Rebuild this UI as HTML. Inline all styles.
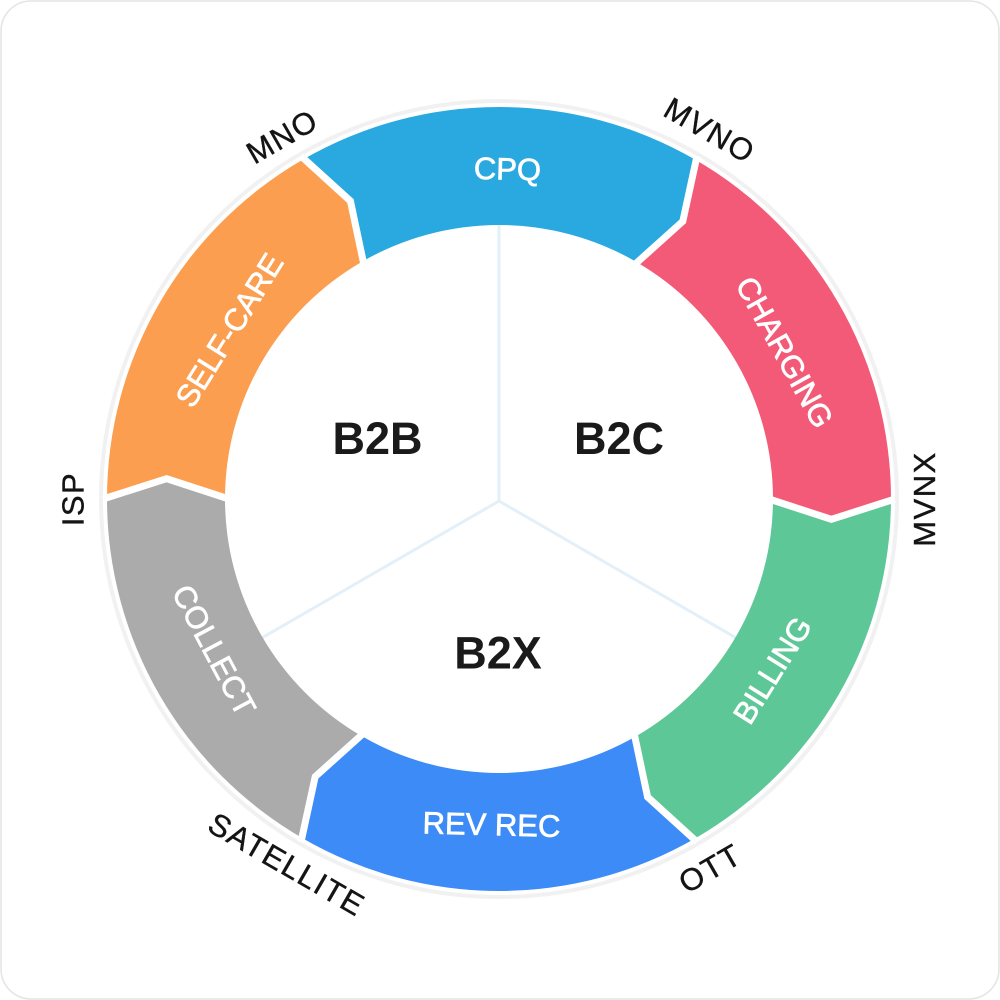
<!DOCTYPE html>
<html>
<head>
<meta charset="utf-8">
<style>
  html, body { margin:0; padding:0; background:#ffffff; }
  body { width:1000px; height:1000px; overflow:hidden; }
  svg { display:block; }
  .ring { font-family:"Liberation Sans", Arial, sans-serif; font-size:31px; fill:#ffffff; stroke:#ffffff; stroke-width:0.7; }
  .outer { font-family:"Liberation Sans", Arial, sans-serif; font-size:31px; fill:#141414; stroke:#141414; stroke-width:0.4; letter-spacing:1.5px; }
  .center { font-family:"Liberation Sans", Arial, sans-serif; font-size:45px; font-weight:bold; fill:#1a1a1a; }
</style>
</head>
<body>
<svg width="1000" height="1000" viewBox="0 0 1000 1000" xmlns="http://www.w3.org/2000/svg">
  <defs>
    <path id="seg" d="M 303,159.52 A 392 392 0 0 1 695,159.52 L 682.80,221.32 L 636,261.71 A 274 274 0 0 0 362,261.71 L 350.42,200.99 Z"/>
    <polyline id="gap" points="697,156.05 682.80,221.32 634,265.17" fill="none" stroke="#ffffff" stroke-width="7" stroke-linejoin="miter"/>
  </defs>

  <!-- card -->
  <rect x="1" y="1" width="998" height="998" rx="30" ry="30" fill="#ffffff" stroke="#e4e4e4" stroke-width="1.5"/>

  <!-- faint outer ring -->
  <circle cx="499" cy="499" r="398" fill="none" stroke="#f1f1f1" stroke-width="4"/>

  <!-- center dividers -->
  <g stroke="#e3f0fa" stroke-width="3" stroke-linecap="round">
    <line x1="499" y1="501" x2="499" y2="220"/>
    <line x1="499" y1="501" x2="256.5" y2="641"/>
    <line x1="499" y1="501" x2="741.5" y2="641"/>
  </g>

  <!-- ring segments -->
  <use href="#seg" fill="#29a9df"/>
  <use href="#seg" fill="#f35a77" transform="rotate(60 499 499)"/>
  <use href="#seg" fill="#5ec797" transform="rotate(120 499 499)"/>
  <use href="#seg" fill="#3c8bf6" transform="rotate(180 499 499)"/>
  <use href="#seg" fill="#ababab" transform="rotate(240 499 499)"/>
  <use href="#seg" fill="#fb9e4f" transform="rotate(300 499 499)"/>

  <!-- white gaps -->
  <use href="#gap"/>
  <use href="#gap" transform="rotate(60 499 499)"/>
  <use href="#gap" transform="rotate(120 499 499)"/>
  <use href="#gap" transform="rotate(180 499 499)"/>
  <use href="#gap" transform="rotate(240 499 499)"/>
  <use href="#gap" transform="rotate(300 499 499)"/>

  <!-- ring labels -->
  <text class="ring" text-anchor="middle" dy="0.36em" transform="translate(507.5,168.5) rotate(1.5)">CPQ</text>
  <text class="ring" text-anchor="middle" dy="0.36em" transform="translate(785,352) rotate(61)">CHARGING</text>
  <text class="ring" text-anchor="middle" dy="0.36em" transform="translate(772,670) rotate(-58)">BILLING</text>
  <text class="ring" text-anchor="middle" dy="0.36em" transform="translate(491.5,824) rotate(1.5)">REV REC</text>
  <text class="ring" text-anchor="middle" dy="0.36em" transform="translate(214.5,650) rotate(62)">COLLECT</text>
  <text class="ring" text-anchor="middle" dy="0.36em" transform="translate(229,330) rotate(-58)">SELF-CARE</text>

  <!-- outer labels -->
  <text class="outer" text-anchor="middle" dy="0.36em" transform="translate(282,136) rotate(-30)">MNO</text>
  <text class="outer" text-anchor="middle" dy="0.36em" transform="translate(710,130) rotate(30)">MVNO</text>
  <text class="outer" text-anchor="middle" dy="0.36em" transform="translate(924,499) rotate(-90)">MVNX</text>
  <text class="outer" text-anchor="middle" dy="0.36em" transform="translate(710,868) rotate(-30)">OTT</text>
  <text class="outer" text-anchor="middle" dy="0.36em" transform="translate(287,864) rotate(30)">SATELLITE</text>
  <text class="outer" text-anchor="middle" dy="0.36em" transform="translate(72.5,499) rotate(-90)">ISP</text>

  <!-- center labels -->
  <text class="center" text-anchor="middle" x="377.5" y="438" dy="0.36em">B2B</text>
  <text class="center" text-anchor="middle" x="619" y="438" dy="0.36em">B2C</text>
  <text class="center" text-anchor="middle" x="498" y="652.5" dy="0.36em">B2X</text>
</svg>
</body>
</html>
